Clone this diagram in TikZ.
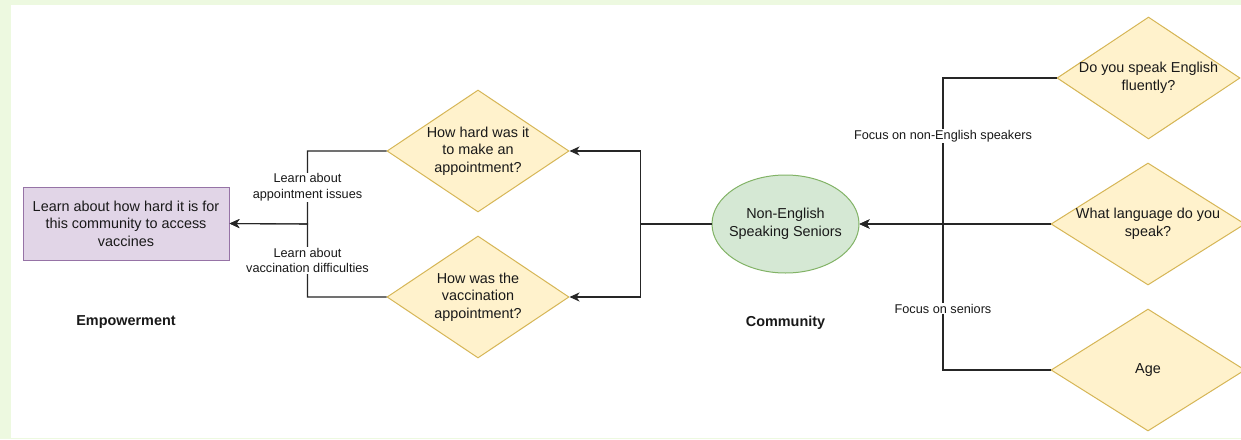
\documentclass[tikz,border=0pt]{standalone}
\usepackage{fontspec}
\setmainfont{Liberation Sans}
\usetikzlibrary{positioning}
\usetikzlibrary{shapes.geometric}
\usetikzlibrary{arrows.meta}

\definecolor{pagegreen}{HTML}{EDF9E0}
\definecolor{qfill}{HTML}{FFF2CC}
\definecolor{qline}{HTML}{D6B656}
\definecolor{cfill}{HTML}{D5E8D4}
\definecolor{cline}{HTML}{82B366}
\definecolor{efill}{HTML}{E1D5E7}
\definecolor{eline}{HTML}{9673A6}

\tikzset{
  maintext/.style={font=\fontsize{14.4}{17.5}\selectfont, align=center, text=black!90},
  areatitle/.style={font=\bfseries\fontsize{14.4}{17.5}\selectfont, text=black!90},
  question/.style={diamond, draw=qline, fill=qfill, line width=1pt, minimum width=194pt,
    minimum height=122pt, inner sep=0pt},
  edgelabel/.style={font=\fontsize{12.7}{15.7}\selectfont, align=center, fill=white,
    inner sep=1pt, text=black!90},
  flow/.style={draw=black!85, line width=1.1pt, -{Stealth[length=10pt,width=9pt,inset=3pt]}},
}

\begin{document}
\begin{tikzpicture}[x=1pt, y=-1pt]
    \fill[pagegreen] (0,0) rectangle (1241,439);
    \fill[white] (11,5) rectangle (1241,438);
    \useasboundingbox (0,0) rectangle (1241,439);

    % empowerment side
    \node(goal) [maintext, draw=eline, fill=efill, line width=1pt, minimum width=206pt,
        minimum height=73pt, inner sep=0pt] at (126,223.5)
        {Learn about how hard it is for\\this community to access\\vaccines};
    \node(empower) [areatitle] at (126,322.5) {Empowerment};

    \node(apptq) [question, minimum width=182pt,
        label={[maintext]center:How hard was it\\to make an\\appointment?}] at (478,151) {};
    \node(vaccq) [question, minimum width=182pt,
        label={[maintext]center:How was the\\vaccination\\appointment?}] at (478,297) {};

    % community side
    \node(seniors) [ellipse, draw=cline, fill=cfill, line width=1pt, minimum width=147pt,
        minimum height=98pt, inner sep=0pt,
        label={[maintext]center:Non-English\\Speaking Seniors}] at (785.5,224) {};
    \node(community) [areatitle] at (785.5,322.5) {Community};

    \node(englishq) [question, minimum width=183pt,
        label={[maintext]center:Do you speak English\\fluently?}] at (1148.5,78) {};
    \node(langq) [question,
        label={[maintext]center:What language do you\\speak?}] at (1148,224) {};
    \node(ageq) [question, label={[maintext]center:Age}] at (1148,370) {};

    \coordinate(splitL) at (307.5,224);
    \coordinate(splitM) at (640.5,224);
    \coordinate(splitR) at (943,224);

    \draw[flow] (apptq.west) -| (splitL) node[edgelabel, pos=0.75] {Learn about\\appointment issues}
        -- (goal.east);
    \draw[flow] (vaccq.west) -| (splitL) node[edgelabel, pos=0.75] {Learn about\\vaccination difficulties}
        -- (goal.east);

    \draw[flow] (seniors.west) -- (splitM) |- (apptq.east);
    \draw[flow] (splitM) |- (vaccq.east);

    \draw[flow] (englishq.west) -| (splitR) node[edgelabel, pos=0.7] {Focus on non-English speakers}
        -- (seniors.east);
    \draw[flow] (ageq.west) -| (splitR) node[edgelabel, pos=0.71] {Focus on seniors}
        -- (seniors.east);
    \draw[flow] (langq.west) -- (seniors.east);
\end{tikzpicture}
\end{document}
